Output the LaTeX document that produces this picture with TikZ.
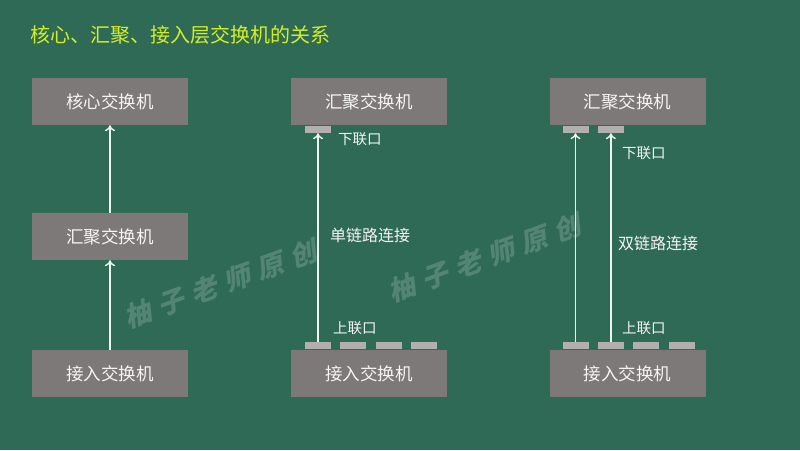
\documentclass[tikz,border=0pt]{standalone}
\usepackage{fontspec}
\setmainfont{Noto Sans CJK SC}
\usetikzlibrary{arrows.meta,positioning}
\definecolor{board}{HTML}{2E6A55}
\definecolor{titleyellow}{HTML}{D4EE26}
\definecolor{boxgrey}{HTML}{7E7979}
\definecolor{portgrey}{HTML}{B2AFAF}
\definecolor{boxtext}{HTML}{F4F4F4}
\definecolor{linkwhite}{HTML}{EEF6F0}
\begin{document}
\begin{tikzpicture}[x=1pt,y=-1pt,
    switchbox/.style={fill=boxgrey,text=boxtext,minimum width=156pt,minimum height=47pt,
        inner sep=0pt,font=\fontsize{17.5}{20}\selectfont},
    port/.style={fill=portgrey,minimum width=26pt,minimum height=7pt,inner sep=0pt},
    lbl/.style={text=boxtext,anchor=west,inner sep=0pt,font=\fontsize{14.5}{17}\selectfont},
    linklbl/.style={lbl,font=\fontsize{16}{19}\selectfont},
    link/.style={draw=linkwhite,line width=1.4pt,-{To[length=6pt,width=10pt]}},
    watermark/.style={text=board!82!white,rotate=20,
        font=\fontsize{27}{30}\selectfont\bfseries\addfontfeature{FakeSlant=0.25,LetterSpace=30}}]
        %% Background
        \fill[board] (0,0) rectangle (800,450);
        \useasboundingbox (0,0) rectangle (800,450);
        %% Watermark
        \node[watermark] (mark1) at (220,284) {柚子老师原创};
        \node[watermark] (mark2) at (484,258) {柚子老师原创};
        %% Title
        \node[anchor=west,inner sep=0pt,text=titleyellow,font=\fontsize{20}{24}\selectfont] (title) at (30,35) {核心、汇聚、接入层交换机的关系};
        %% Left: three layers
        \node[switchbox] (core) at (110,101.5) {核心交换机};
        \node[switchbox] (agg) at (110,236.5) {汇聚交换机};
        \node[switchbox] (acc) at (110,373.5) {接入交换机};
        \draw[link] (acc.north) -- (agg.south);
        \draw[link] (agg.north) -- (core.south);
        %% Middle: single link
        \node[switchbox] (aggA) at (369,101.5) {汇聚交换机};
        \node[switchbox] (accA) at (369,373.5) {接入交换机};
        \node[port] (downA) at (318,129.5) {};
        \node[port] (upA1) at (318,345.5) {};
        \node[port,right=9pt of upA1] (upA2) {};
        \node[port,right=9pt of upA2] (upA3) {};
        \node[port,right=9pt of upA3] (upA4) {};
        \draw[link] (upA1.north) -- (downA.south);
        \node[lbl] (downlblA) at (338,139) {下联口};
        \node[linklbl] (singlelbl) at (330,235) {单链路连接};
        \node[lbl] (uplblA) at (333,328) {上联口};
        %% Right: double link
        \node[switchbox] (aggB) at (627.5,101.5) {汇聚交换机};
        \node[switchbox] (accB) at (627.5,373.5) {接入交换机};
        \node[port] (downB1) at (575.5,129.5) {};
        \node[port,right=9pt of downB1] (downB2) {};
        \node[port] (upB1) at (575.5,345.5) {};
        \node[port,right=9pt of upB1] (upB2) {};
        \node[port,right=9pt of upB2] (upB3) {};
        \node[port,right=9pt of upB3] (upB4) {};
        \draw[link] (upB1.north) -- (downB1.south);
        \draw[link] (upB2.north) -- (downB2.south);
        \node[lbl] (downlblB) at (622,153) {下联口};
        \node[linklbl] (doublelbl) at (618,243) {双链路连接};
        \node[lbl] (uplblB) at (622,328) {上联口};
    \end{tikzpicture}
\end{document}
